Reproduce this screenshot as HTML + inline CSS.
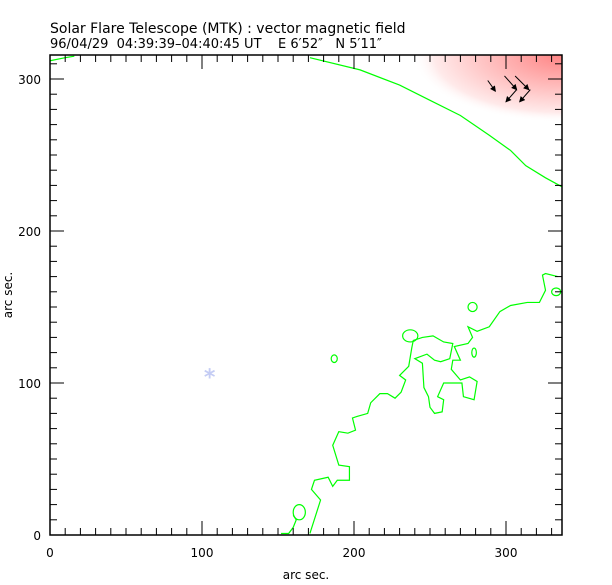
<!DOCTYPE html>
<html><head><meta charset="utf-8"><style>
body{margin:0;background:#fff;}
svg{display:block;font-family:"DejaVu Sans","Liberation Sans",sans-serif;}
</style></head><body>
<svg id="c" width="612" height="585">
<defs>
<radialGradient id="rg" cx="562" cy="55" r="150" gradientUnits="userSpaceOnUse" gradientTransform="translate(562 55) scale(1 0.45) translate(-562 -55)">
<stop offset="0" stop-color="#ff8484"/>
<stop offset="0.5" stop-color="#ffc0c0"/>
<stop offset="0.85" stop-color="#ffeaea"/>
<stop offset="1" stop-color="#ffffff" stop-opacity="0"/>
</radialGradient>
<marker id="ah" markerWidth="6" markerHeight="6" refX="5" refY="3" orient="auto"><path d="M0,0 L6,3 L0,6 z" fill="#000"/></marker>
</defs>
</svg>
<script>
const xTicks=[0,100,200,300];
const yTicks=[0,100,200,300];
const limbContour=[[171,314],[204,306],[230,296],[250,286],[270,276],[289,263],[303,253],[313,243],[326,235],[337,229]];
const limbContour2=[[0,312],[10,314],[16,315]];
const mainContour=[[171,1],[178,23],[172,30],[174,36],[183,38],[186,32],[189,36],[197,36],[197,45],[190,46],[186,59],[190,68],[196,67],[201,69],[199,77],[202,78],[209,80],[211,87],[217,93],[222,93],[227,90],[231,94],[234,102],[230,105],[236,111],[238,123],[239,128],[245,130],[252,131],[259,127],[265,126],[263,116],[257,114],[253,115],[248,119],[240,116],[245,113],[246,97],[249,91],[250,84],[253,80],[258,81],[259,89],[255,91],[259,100],[271,100],[272,91],[279,89],[281,101],[276,104],[270,102],[264,109],[265,115],[270,115],[266,124],[275,126],[278,130],[275,137],[281,134],[289,137],[296,147],[303,151],[314,153],[322,153],[326,161],[324,171],[326,172],[334,170]];
const sideContour=[[152,1],[157,1],[160,5],[162,10],[160,13]];
const loops=[[164,15,4,5],[187,116,2,2.5],[237,131,5,4],[278,150,3,3],[279,120,1.5,3],[333,160,3,2.5]];
const vectors=[[288,299,293,292],[299,302,307,293],[306,302,315,293],[307,293,300,285],[316,293,309,285]];
const star=[105,105];

const X0=50,X1=562,Y0=535,Y1=55,S=1.52;
const xs=v=>X0+v*S, ys=v=>Y0-v*S;
const svg=document.getElementById('c');
const NS='http://www.w3.org/2000/svg';
function mk(t,a,p){const e=document.createElementNS(NS,t);for(const k in a)e.setAttribute(k,a[k]);(p||svg).appendChild(e);return e;}

const patch=mk('rect',{x:X0,y:Y1,width:X1-X0,height:120,fill:'url(#rg)'});



function poly(pts,name){const e=mk('polyline',{points:pts.map(p=>xs(p[0])+','+ys(p[1])).join(' '),fill:'none',stroke:'#00ff00','stroke-width':1.2});

}
poly(limbContour,'limb-contour');
poly(limbContour2,'limb-contour-left');
poly(mainContour,'neutral-line-contour');
poly(sideContour,'small-contour');
loops.forEach(l=>{const e=mk('ellipse',{cx:xs(l[0]),cy:ys(l[1]),rx:l[2]*S,ry:l[3]*S,fill:'none',stroke:'#00ff00','stroke-width':1.2});

});
vectors.forEach(v=>{const e=mk('line',{x1:xs(v[0]),y1:ys(v[1]),x2:xs(v[2]),y2:ys(v[3]),stroke:'#000','stroke-width':1,'marker-end':'url(#ah)'});

});
const st=mk('text',{x:xs(star[0]),y:ys(star[1])+9,'text-anchor':'middle','font-size':22,'font-weight':'bold',fill:'#c4ccf4'});st.textContent='*';



const fr=mk('rect',{x:X0,y:Y1,width:X1-X0,height:Y0-Y1,fill:'none',stroke:'#000','stroke-width':1.5});


for(let v=0;v<=330;v+=10){const L=v%100==0?14:7;const x=xs(v);
mk('line',{x1:x,y1:Y0,x2:x,y2:Y0-L,stroke:'#000'});mk('line',{x1:x,y1:Y1,x2:x,y2:Y1+L,stroke:'#000'});}
for(let v=0;v<=310;v+=10){const L=v%100==0?14:7;const y=ys(v);
mk('line',{x1:X0,y1:y,x2:X0+L,y2:y,stroke:'#000'});mk('line',{x1:X1,y1:y,x2:X1-L,y2:y,stroke:'#000'});}
xTicks.forEach(t=>{const e=mk('text',{x:xs(t),y:557,'text-anchor':'middle','font-size':12});e.textContent=t;

});
yTicks.forEach(t=>{const e=mk('text',{x:41,y:ys(t)+5,'text-anchor':'end','font-size':12});e.textContent=t;

});
</script>
<script>
(function(){const svg=document.getElementById('c');const NS='http://www.w3.org/2000/svg';
function t(x,y,s,txt,name,extra){const e=document.createElementNS(NS,'text');e.setAttribute('x',x);e.setAttribute('y',y);e.setAttribute('font-size',s);e.setAttribute('style','white-space:pre');if(extra)for(const k in extra)e.setAttribute(k,extra[k]);e.textContent=txt;svg.appendChild(e);

}
t(50,33,14,'Solar Flare Telescope (MTK) : vector magnetic field','chart-title');
t(50,48,13,'96/04/29  04:39:39\u201304:40:45 UT    E 6\u203252\u2033   N 5\u203211\u2033','chart-subtitle');
t(306,579,12,'arc sec.','x-axis-title',{'text-anchor':'middle'});
t(12,295,12,'arc sec.','y-axis-title',{'text-anchor':'middle',transform:'rotate(-90 12 295)'});
})();
</script>
</body></html>
